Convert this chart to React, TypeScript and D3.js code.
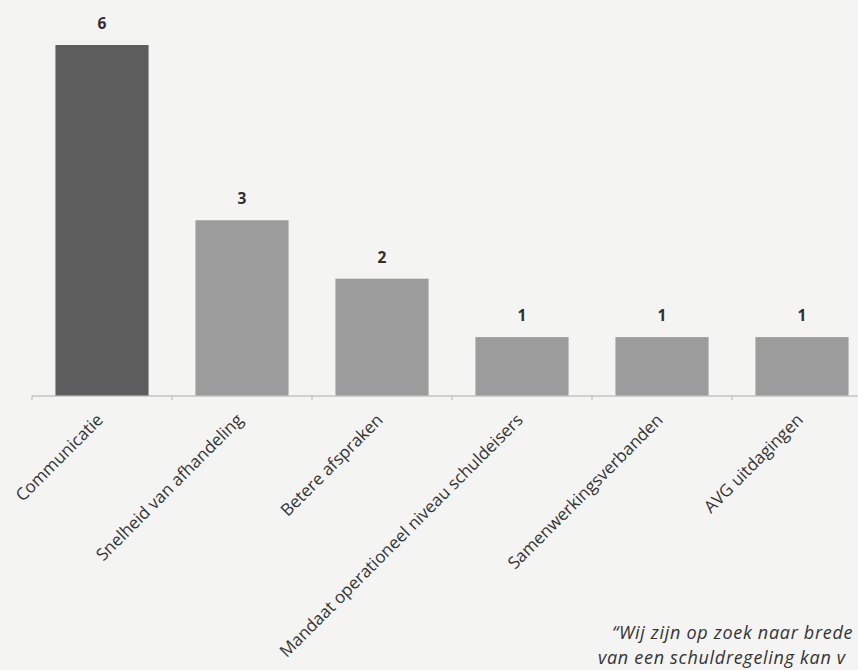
import React from "react";
import * as d3 from "d3";

const categories = [
  "Communicatie",
  "Snelheid van afhandeling",
  "Betere afspraken",
  "Mandaat operationeel niveau schuldeisers",
  "Samenwerkingsverbanden",
  "AVG uitdagingen",
];
const values = [6, 3, 2, 1, 1, 1];
const quoteLines = [
  "\u201CWij zijn op zoek naar brede",
  "van een schuldregeling kan v",
];

const W = 858;
const H = 670;

export default function App() {
  const x = d3
    .scaleBand<string>()
    .domain(categories)
    .range([32, 872])
    .paddingInner(0.335)
    .paddingOuter(0.1675);
  const y = d3.scaleLinear().domain([0, 6]).range([395.5, 45]);
  const font = "'Open Sans', 'Noto Sans', sans-serif";
  const step = x.step();
  const boundaries = d3.range(categories.length + 1).map((i) => 32 + i * step);

  return (
    <svg
      width={W}
      height={H}
      style={{ position: "fixed", left: 0, top: 0, background: "#f4f4f3" }}
    >
      <rect x={0} y={0} width={W} height={H} fill="#f4f4f3" />
      <line x1={32} x2={W} y1={396} y2={396} stroke="#ababab" strokeWidth={1} />
      {boundaries.map((b, i) => (
        <line key={i} x1={b} x2={b} y1={396} y2={400} stroke="#b5b5b5" strokeWidth={1} />
      ))}
      {categories.map((c, i) => (
        <rect
          key={c}
          x={x(c)}
          y={y(values[i])}
          width={x.bandwidth()}
          height={y(0) - y(values[i])}
          fill={i === 0 ? "#5c5d5c" : "#9c9c9c"}
        />
      ))}
      {categories.map((c, i) => (
        <text
          key={"v" + c}
          x={(x(c) as number) + x.bandwidth() / 2}
          y={y(values[i]) - 16}
          textAnchor="middle"
          fontFamily={font}
          fontWeight="bold"
          fontSize={15.5}
          fill="#2f2f2f"
        >
          {values[i]}
        </text>
      ))}
      {categories.map((c) => {
        const cx = (x(c) as number) + x.bandwidth() / 2 + 2;
        const cy = 421;
        return (
          <text
            key={"l" + c}
            transform={`translate(${cx},${cy}) rotate(-45)`}
            textAnchor="end"
            fontFamily={font}
            fontSize={17}
            fill="#333"
          >
            {c}
          </text>
        );
      })}
      {quoteLines.map((q, i) => (
        <text
          key={"q" + i}
          x={i === 0 ? 612 : 598}
          y={639 + i * 25}
          fontFamily={font}
          fontStyle="italic"
          fontSize={18}
          letterSpacing={0.7}
          fill="#333"
        >
          {q}
        </text>
      ))}
    </svg>
  );
}
